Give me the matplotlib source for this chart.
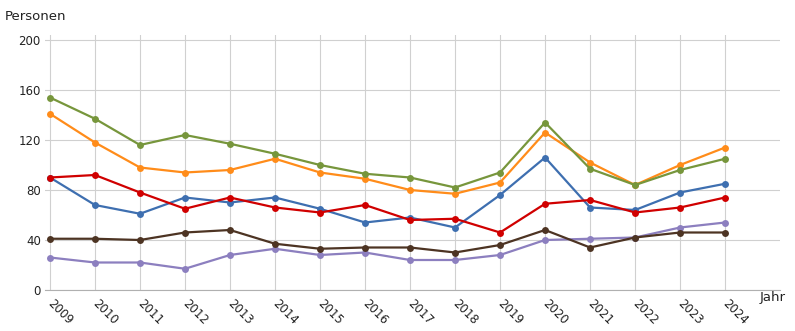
import matplotlib.pyplot as plt

YEARS = list(range(2009, 2025))

# Personen je Jahr, eine Liste pro Reihe
GREEN = [154, 137, 116, 124, 117, 109, 100, 93, 90, 82, 94, 134, 97, 84, 96, 105]
ORANGE = [141, 118, 98, 94, 96, 105, 94, 89, 80, 77, 86, 126, 102, 84, 100, 114]
RED = [90, 92, 78, 65, 74, 66, 62, 68, 56, 57, 46, 69, 72, 62, 66, 74]
BLUE = [90, 68, 61, 74, 70, 74, 65, 54, 58, 50, 76, 106, 66, 64, 78, 85]
BROWN = [41, 41, 40, 46, 48, 37, 33, 34, 34, 30, 36, 48, 34, 42, 46, 46]
PURPLE = [26, 22, 22, 17, 28, 33, 28, 30, 24, 24, 28, 40, 41, 42, 50, 54]

Y_TICKS = [0, 40, 80, 120, 160, 200]

SERIES = [
	(PURPLE, '#8c7fbf'),
	(BROWN, '#4d3423'),
	(BLUE, '#3e6fb0'),
	(RED, '#d00000'),
	(ORANGE, '#ff8c1a'),
	(GREEN, '#77963c'),
]

fig = plt.figure(figsize=(7.95, 3.31), dpi=100)
# a little headroom above 200 so the vertical grid lines overshoot the top line
ax = fig.add_axes([45 / 795, 41 / 331, 735 / 795, 255 / 331])

for values, colour in SERIES:
	ax.plot(YEARS, values, color=colour, linewidth=1.6, marker='o',
		markersize=5, markeredgewidth=0, zorder=3)

ax.set_xlim(2008.89, 2025.22)
ax.set_ylim(0, 204)
ax.set_xticks(YEARS)
ax.set_xticklabels([str(y) for y in YEARS], rotation=-45, ha='left',
	va='center', rotation_mode='anchor', fontsize=8.5, color='#222222')
ax.set_yticks(Y_TICKS)
ax.set_yticklabels([str(v) for v in Y_TICKS], fontsize=8.5, color='#222222')
ax.tick_params(axis='both', length=0, pad=3)
ax.tick_params(axis='x', pad=8)

ax.grid(True, color='#d0d0d0', linewidth=0.8, zorder=0)
for side in ['top', 'right', 'left']:
	ax.spines[side].set_visible(False)
ax.spines['bottom'].set_color('#b0b0b0')

fig.text(5 / 795, 1 - 16 / 331, 'Personen', fontsize=9.5, color='#222222', va='center')
fig.text(760 / 795, 1 - 298 / 331, 'Jahr', fontsize=9.5, color='#222222', va='center')

fig.savefig('out.png', dpi=100)
